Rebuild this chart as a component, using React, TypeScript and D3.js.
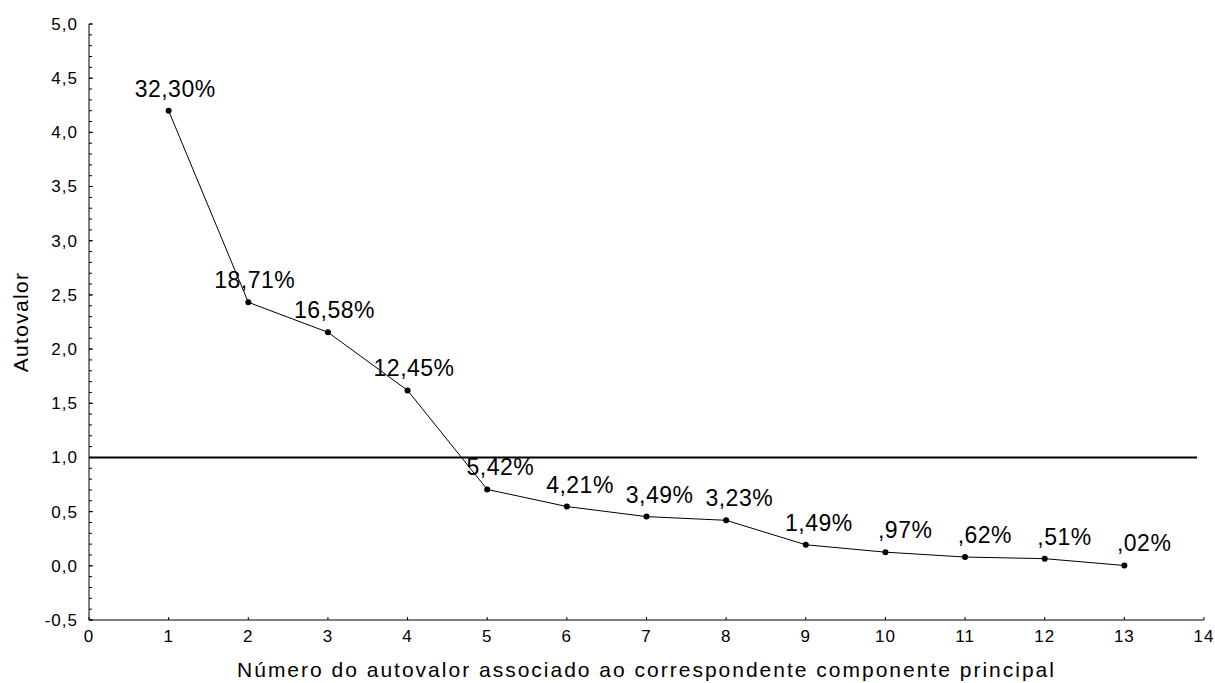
import React from "react";
import * as d3 from "d3";

const components = [1, 2, 3, 4, 5, 6, 7, 8, 9, 10, 11, 12, 13];
const eigenvalues = [4.199, 2.432, 2.155, 1.619, 0.705, 0.547, 0.454, 0.42, 0.194, 0.126, 0.081, 0.066, 0.003];
const pctLabels = ["32,30%", "18,71%", "16,58%", "12,45%", "5,42%", "4,21%", "3,49%", "3,23%", "1,49%", ",97%", ",62%", ",51%", ",02%"];
const yMajorTicks = [-0.5, 0, 0.5, 1, 1.5, 2, 2.5, 3, 3.5, 4, 4.5, 5];
const xTicks = [0, 1, 2, 3, 4, 5, 6, 7, 8, 9, 10, 11, 12, 13, 14];
const referenceValue = 1.0;

const W = 1215, H = 683;
const fmt = (v: number) => d3.format(".1f")(v).replace(".", ",").replace("\u2212", "-");
const FONT = "'Liberation Sans', Arial, sans-serif";

export default function App() {
  const x = d3.scaleLinear().domain([0, 14]).range([89, 1204]);
  const y = d3.scaleLinear().domain([-0.5, 5]).range([620, 24]);
  const minor = d3.range(-5, 51).map((i) => i / 10);
  const line = d3.line<number>().x((_, i) => x(components[i])).y((d) => y(d));

  return (
    <svg width={W} height={H} style={{ position: "absolute", left: 0, top: 0, background: "#fff" }} fontFamily={FONT}>
      <rect width={W} height={H} fill="#fff" />
      {/* y axis */}
      <line x1={x(0)} x2={x(0)} y1={y(5)} y2={y(-0.5)} stroke="#000" strokeWidth={1} />
      {minor.map((v) => (
        <line key={"m" + v} x1={x(0)} x2={x(0) + 3} y1={y(v)} y2={y(v)} stroke="#000" strokeWidth={1} />
      ))}
      {yMajorTicks.map((v) => (
        <g key={"y" + v}>
          <line x1={x(0)} x2={x(0) + 4} y1={y(v)} y2={y(v)} stroke="#000" strokeWidth={1} />
          <text x={x(0) - 11} y={y(v)} dy="0.35em" textAnchor="end" fontSize={17} letterSpacing={1} fill="#000">{fmt(v)}</text>
        </g>
      ))}
      {/* x axis */}
      <line x1={x(0)} x2={x(14)} y1={y(-0.5)} y2={y(-0.5)} stroke="#000" strokeWidth={1} />
      {xTicks.map((v) => (
        <g key={"x" + v}>
          <line x1={x(v)} x2={x(v)} y1={y(-0.5)} y2={y(-0.5) - 3} stroke="#000" strokeWidth={1} />
          <text x={x(v)} y={y(-0.5) + 22} textAnchor="middle" fontSize={17} letterSpacing={1} fill="#000">{v}</text>
        </g>
      ))}
      {/* reference line */}
      <line x1={x(0)} x2={1197} y1={y(referenceValue)} y2={y(referenceValue)} stroke="#000" strokeWidth={2} />
      {/* series */}
      <path d={line(eigenvalues) || ""} fill="none" stroke="#000" strokeWidth={1} />
      {eigenvalues.map((v, i) => (
        <circle key={"c" + i} cx={x(components[i])} cy={y(v)} r={3} fill="#000" />
      ))}
      {eigenvalues.map((v, i) => (
        <text key={"l" + i} x={x(components[i]) + 47} y={y(v) - 14} textAnchor="end" fontSize={23} letterSpacing={0.5} fill="#000">{pctLabels[i]}</text>
      ))}
      {/* titles */}
      <text transform={`translate(28,${(y(5) + y(-0.5)) / 2}) rotate(-90)`} textAnchor="middle" fontSize={21} letterSpacing={1.3} fill="#000">Autovalor</text>
      <text x={(x(0) + x(14)) / 2} y={677} textAnchor="middle" fontSize={21} letterSpacing={2} fill="#000">Número do autovalor associado ao correspondente componente principal</text>
    </svg>
  );
}
